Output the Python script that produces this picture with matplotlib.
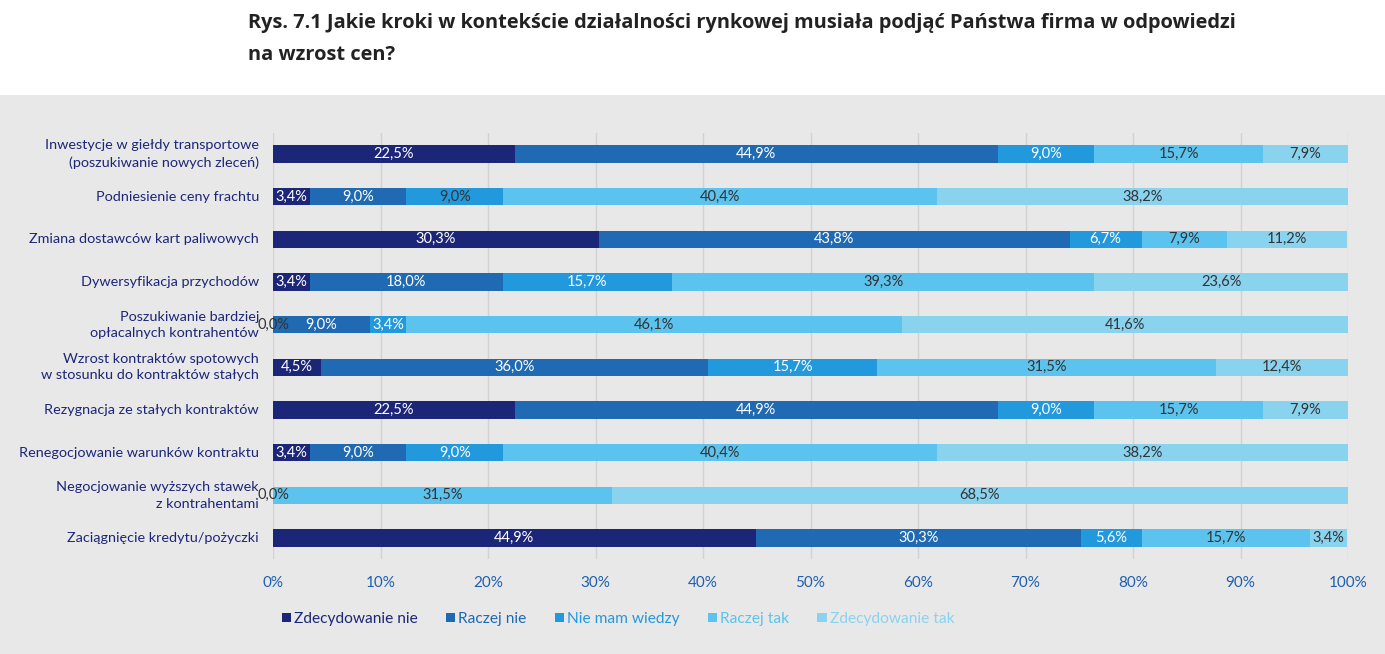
import numpy as np
import matplotlib
matplotlib.use("Agg")
import matplotlib.pyplot as plt
from matplotlib.patches import Rectangle, Patch

plt.rcParams['font.family'] = ['Lato', 'DejaVu Sans']

categories = [
    "Inwestycje w giełdy transportowe\n(poszukiwanie nowych zleceń)",
    "Podniesienie ceny frachtu",
    "Zmiana dostawców kart paliwowych",
    "Dywersyfikacja przychodów",
    "Poszukiwanie bardziej\nopłacalnych kontrahentów",
    "Wzrost kontraktów spotowych\nw stosunku do kontraktów stałych",
    "Rezygnacja ze stałych kontraktów",
    "Renegocjowanie warunków kontraktu",
    "Negocjowanie wyższych stawek\nz kontrahentami",
    "Zaciągnięcie kredytu/pożyczki",
]
series_names = ["Zdecydowanie nie", "Raczej nie", "Nie mam wiedzy", "Raczej tak", "Zdecydowanie tak"]
zdecydowanie_nie = [22.5, 3.4, 30.3, 3.4, 0.0, 4.5, 22.5, 3.4, 0.0, 44.9]
raczej_nie = [44.9, 9.0, 43.8, 18.0, 9.0, 36.0, 44.9, 9.0, 0.0, 30.3]
nie_mam_wiedzy = [9.0, 9.0, 6.7, 15.7, 3.4, 15.7, 9.0, 9.0, 0.0, 5.6]
raczej_tak = [15.7, 40.4, 7.9, 39.3, 46.1, 31.5, 15.7, 40.4, 31.5, 15.7]
zdecydowanie_tak = [7.9, 38.2, 11.2, 23.6, 41.6, 12.4, 7.9, 38.2, 68.5, 3.4]
values = [zdecydowanie_nie, raczej_nie, nie_mam_wiedzy, raczej_tak, zdecydowanie_tak]

colors = ["#1c2678", "#1f6ab3", "#2399dd", "#5bc3ee", "#8ad3ee"]
label_colors = ["white", "white", "white", "#333333", "#333333"]
navy = "#1c2678"
bg = "#e8e8e8"

fig = plt.figure(figsize=(13.85, 6.54), dpi=100)
fig.patch.set_facecolor("white")
fig.patches.append(Rectangle((0, 0), 1, 1 - 95 / 654, transform=fig.transFigure,
                             facecolor=bg, edgecolor="none", zorder=-10))

title_font = ["Open Sans", "DejaVu Sans"]
fig.text(248 / 1385, 1 - 23 / 654, "Rys. 7.1 Jakie kroki w kontekście działalności rynkowej musiała podjąć Państwa firma w odpowiedzi",
         fontsize=14.45, fontweight="bold", color="#222222", va="center", ha="left", family=title_font)
fig.text(248 / 1385, 1 - 55 / 654, "na wzrost cen?",
         fontsize=14.45, fontweight="bold", color="#222222", va="center", ha="left", family=title_font)

ax = fig.add_axes([273 / 1385, 0.1447, 1075 / 1385, 0.6525])
ax.set_facecolor(bg)

y = np.arange(len(categories))
left = np.zeros(len(categories))
for i, (name, vals) in enumerate(zip(series_names, values)):
    vals = np.array(vals)
    ax.barh(y, vals, left=left, height=0.4, color=colors[i], label=name, zorder=3)
    for j, v in enumerate(vals):
        # zero values only labelled for the first series, like the source
        if v > 0 or i == 0:
            col = label_colors[i] if v > 0 else "#333333"
            if i == 2 and j == 1:
                col = "#333333"
            ax.text(left[j] + v / 2, y[j], f"{v:.1f}%".replace(".", ","), ha="center", va="center",
                    fontsize=10.5, color=col, zorder=4)
    left += vals

ax.set_xlim(0, 100)
ax.set_ylim(len(categories) - 0.5, -0.5)
ax.set_xticks(np.arange(0, 101, 10))
ax.set_xticklabels([f"{t}%" for t in range(0, 101, 10)], fontsize=11, color="#1f5fb0")
ax.set_yticks(y)
ax.set_yticklabels(categories, fontsize=10.4, color=navy)
for lab in ax.get_yticklabels():
    lab.set_linespacing(1.43)
    lab.set_verticalalignment("center")
ax.tick_params(axis="both", length=0)
ax.tick_params(axis="y", pad=10)
ax.tick_params(axis="x", pad=12)
ax.grid(axis="x", color="#d2d2d2", linewidth=1, zorder=0)
for s in ax.spines.values():
    s.set_visible(False)

handles = [Patch(facecolor=c, edgecolor="none") for c in colors]
leg = fig.legend(handles, series_names, loc="center", bbox_to_anchor=(618 / 1385, 1 - 619 / 654),
                 ncol=5, frameon=False, fontsize=11.2, handlelength=0.6, handleheight=0.6,
                 handletextpad=0.2, columnspacing=1.8)
for t, c in zip(leg.get_texts(), colors):
    t.set_color(c)

fig.savefig("out.png", dpi=100)
